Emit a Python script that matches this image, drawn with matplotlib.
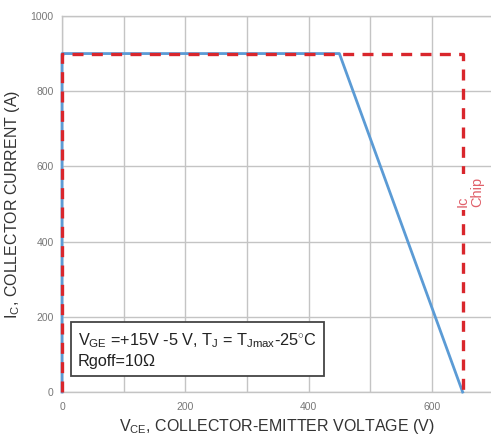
import matplotlib
matplotlib.use("Agg")
import matplotlib.pyplot as plt

plt.rcParams['font.family'] = ['Liberation Sans', 'DejaVu Sans']
plt.rcParams['mathtext.fontset'] = 'custom'
plt.rcParams['mathtext.rm'] = 'Liberation Sans'
plt.rcParams['mathtext.it'] = 'Liberation Sans'

# Data
vce_igbt = [0, 0, 450, 650]
ic_igbt = [0, 900, 900, 0]
vce_chip = [0, 0, 650, 650]
ic_chip = [0, 900, 900, 0]
xticks = [0, 200, 400, 600]
yticks = [0, 200, 400, 600, 800, 1000]

fig = plt.figure(figsize=(4.91, 4.43), dpi=100)
ax = fig.add_axes([0.1263, 0.115, 0.8737, 0.849])

ax.set_xlim(0, 696)
ax.set_ylim(0, 1000)
ax.set_xticks(xticks)
ax.set_xticks(range(0, 700, 100), minor=True)
ax.set_yticks(yticks)
ax.grid(True, which='both', axis='x', color='#c4c4c4', lw=1.0)
ax.grid(True, which='major', axis='y', color='#c4c4c4', lw=1.0)
ax.set_axisbelow(True)

ax.spines['right'].set_visible(False)
for s in ['left', 'bottom', 'top']:
    ax.spines[s].set_color('#c4c4c4')
    ax.spines[s].set_linewidth(1.0)

ax.tick_params(axis='both', which='both', length=0,
               labelsize=7.5, labelcolor='#777777')
ax.tick_params(axis='x', pad=7)
ax.tick_params(axis='y', pad=6)

ax.plot(vce_igbt, ic_igbt, color='#5b9bd5', lw=2.0, clip_on=False, zorder=3)
ax.plot(vce_chip, ic_chip, color='#d9262c', lw=2.4, ls=(0, (3.3, 2.5)),
        clip_on=False, zorder=4)

ax.text(26, 161, "V$_{\\mathrm{GE}}$ =+15V -5 V, T$_{\\mathrm{J}}$ = T$_{\\mathrm{Jmax}}$-25$^{\\circ}$C\nRgoff=10Ω",
        fontsize=11.7, color='#222222', va='top', ha='left', linespacing=1.3,
        bbox=dict(boxstyle='square,pad=0.45', fc='white', ec='#444444', lw=1.3),
        zorder=5)

ax.text(662, 492, "Ic\nChip", rotation=90, fontsize=10.5, color='#e0606a',
        ha='center', va='bottom', multialignment='left', linespacing=1.0,
        bbox=dict(boxstyle='square,pad=0.2', fc='white', ec='none'), zorder=5)

ax.set_xlabel("V$_{\\mathrm{CE}}$, COLLECTOR-EMITTER VOLTAGE (V)", fontsize=11.5,
              color='#333333', labelpad=4)
ax.set_ylabel("I$_{\\mathrm{C}}$, COLLECTOR CURRENT (A)", fontsize=11.5,
              color='#333333', labelpad=6)

fig.savefig("out.png", dpi=100)
